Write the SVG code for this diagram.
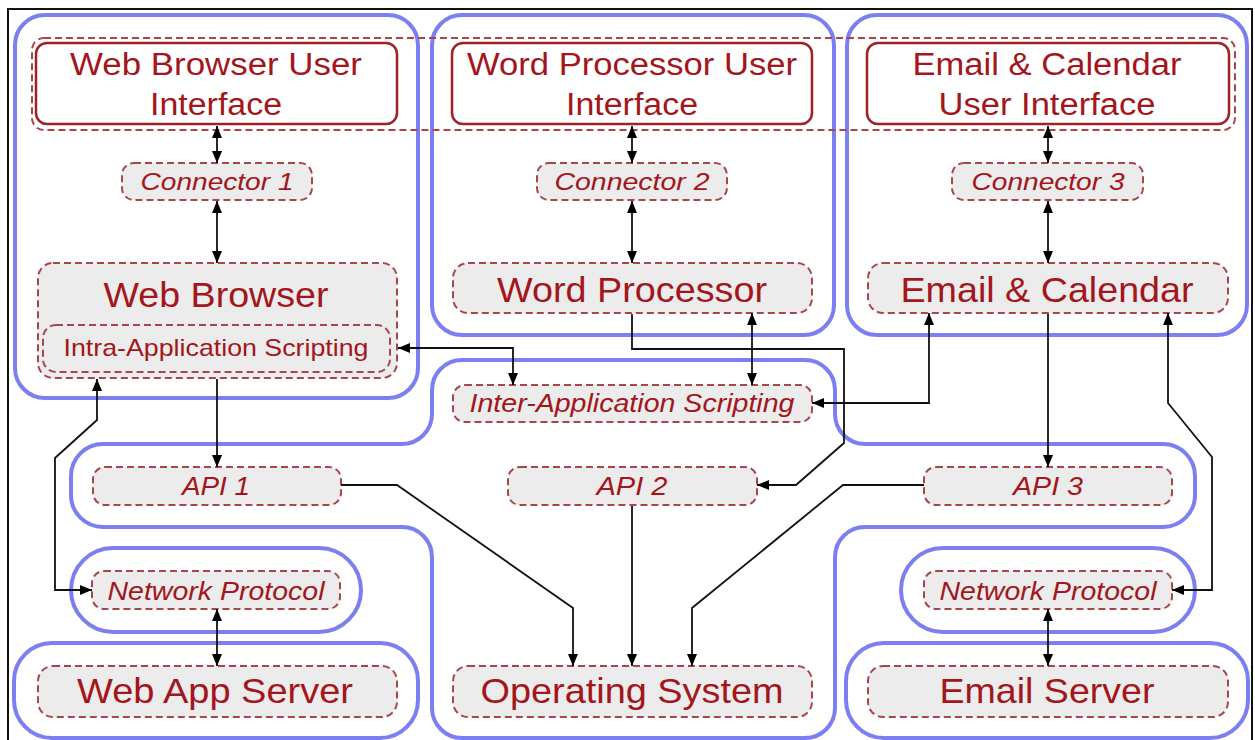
<svg xmlns="http://www.w3.org/2000/svg" width="1255" height="740" viewBox="0 0 1255 740">
<defs>
<style>
.blue{fill:none;stroke:#7c7ff2;stroke-width:4}
.dash{fill:#ececec;stroke:#a8474b;stroke-width:2;stroke-dasharray:7 4}
.dashnf{fill:none;stroke:#a8474b;stroke-width:2;stroke-dasharray:7 4}
.ui{fill:#fff;stroke:#a02226;stroke-width:2.5}
text{font-family:"Liberation Sans",Arial,Helvetica,sans-serif;fill:#a3161b;text-anchor:middle}
.it{font-style:italic}
.con{fill:none;stroke:#111;stroke-width:1.8}
</style>
<marker id="ah" viewBox="0 0 12 10" refX="12" refY="5" markerWidth="12" markerHeight="10" markerUnits="userSpaceOnUse" orient="auto-start-reverse">
<path d="M0,0 L12,5 L0,10 z" fill="#000"/>
</marker>
</defs>
<rect x="0" y="0" width="1255" height="740" fill="#fff"/>
<path d="M8 740 V9 H1252 V740" fill="none" stroke="#111" stroke-width="2"/>

<g id="containers">
<rect class="blue" x="15" y="15" width="403" height="383" rx="30"/>
<rect class="blue" x="432" y="15" width="402" height="320" rx="30"/>
<rect class="blue" x="847" y="15" width="400" height="320" rx="30"/>
<path class="blue" d="M462 360 H805 A30 30 0 0 1 835 390 V414 A30 30 0 0 0 865 444 H1163 A32 32 0 0 1 1195 476 V495 A32 32 0 0 1 1163 527 H865 A30 30 0 0 0 835 557 V708 A30 30 0 0 1 805 738 H462 A30 30 0 0 1 432 708 V557 A30 30 0 0 0 402 527 H103 A32 32 0 0 1 71 495 V476 A32 32 0 0 1 103 444 H402 A30 30 0 0 0 432 414 V390 A30 30 0 0 1 462 360 Z"/>
<rect class="blue" x="71" y="548" width="290" height="84" rx="42"/>
<rect class="blue" x="901" y="548" width="294" height="84" rx="42"/>
<rect class="blue" x="14" y="643" width="404" height="95" rx="38"/>
<rect class="blue" x="846" y="643" width="402" height="95" rx="38"/>
</g>

<g id="ui-layer">
<rect class="dashnf" x="32" y="38" width="1203" height="92" rx="12"/>
</g>

<g id="wb-ui">
<rect class="ui" x="36" y="43" width="361" height="81" rx="11"/>
<text x="216" y="75" font-size="31" textLength="292" lengthAdjust="spacingAndGlyphs">Web Browser User</text>
<text x="216" y="115" font-size="31" textLength="132" lengthAdjust="spacingAndGlyphs">Interface</text>
</g>
<g id="wp-ui">
<rect class="ui" x="452" y="43" width="360" height="81" rx="11"/>
<text x="632" y="75" font-size="31" textLength="330" lengthAdjust="spacingAndGlyphs">Word Processor User</text>
<text x="632" y="115" font-size="31" textLength="132" lengthAdjust="spacingAndGlyphs">Interface</text>
</g>
<g id="ec-ui">
<rect class="ui" x="867" y="43" width="362" height="81" rx="11"/>
<text x="1047" y="75" font-size="31" textLength="269" lengthAdjust="spacingAndGlyphs">Email &amp; Calendar</text>
<text x="1047" y="115" font-size="31" textLength="217" lengthAdjust="spacingAndGlyphs">User Interface</text>
</g>

<g id="connector1">
<rect class="dash" x="122" y="163" width="190" height="37" rx="12"/>
<text class="it" x="217" y="190" font-size="24" textLength="153" lengthAdjust="spacingAndGlyphs">Connector 1</text>
</g>
<g id="connector2">
<rect class="dash" x="537" y="163" width="190" height="37" rx="12"/>
<text class="it" x="632" y="190" font-size="24" textLength="155" lengthAdjust="spacingAndGlyphs">Connector 2</text>
</g>
<g id="connector3">
<rect class="dash" x="952" y="163" width="191" height="37" rx="12"/>
<text class="it" x="1048" y="190" font-size="24" textLength="153" lengthAdjust="spacingAndGlyphs">Connector 3</text>
</g>

<g id="web-browser">
<rect class="dash" x="38" y="263" width="359" height="115" rx="15"/>
<text x="216" y="307" font-size="35" textLength="225" lengthAdjust="spacingAndGlyphs">Web Browser</text>
</g>
<g id="intra-scripting">
<rect class="dash" x="43" y="325" width="347" height="47" rx="13"/>
<text x="216" y="356" font-size="24" textLength="305" lengthAdjust="spacingAndGlyphs">Intra-Application Scripting</text>
</g>
<g id="word-processor">
<rect class="dash" x="453" y="263" width="359" height="50" rx="15"/>
<text x="632" y="302" font-size="35" textLength="270" lengthAdjust="spacingAndGlyphs">Word Processor</text>
</g>
<g id="email-calendar">
<rect class="dash" x="868" y="263" width="360" height="50" rx="15"/>
<text x="1047" y="302" font-size="35" textLength="293" lengthAdjust="spacingAndGlyphs">Email &amp; Calendar</text>
</g>
<g id="inter-scripting">
<rect class="dash" x="453" y="385" width="359" height="37" rx="12"/>
<text class="it" x="632" y="412" font-size="26" textLength="325" lengthAdjust="spacingAndGlyphs">Inter-Application Scripting</text>
</g>

<g id="api1">
<rect class="dash" x="93" y="467" width="248" height="38" rx="12"/>
<text class="it" x="216" y="495" font-size="25" textLength="68" lengthAdjust="spacingAndGlyphs">API 1</text>
</g>
<g id="api2">
<rect class="dash" x="508" y="467" width="249" height="38" rx="12"/>
<text class="it" x="632" y="495" font-size="25" textLength="71" lengthAdjust="spacingAndGlyphs">API 2</text>
</g>
<g id="api3">
<rect class="dash" x="924" y="467" width="248" height="38" rx="12"/>
<text class="it" x="1048" y="495" font-size="25" textLength="70" lengthAdjust="spacingAndGlyphs">API 3</text>
</g>

<g id="netproto-left">
<rect class="dash" x="92" y="571" width="248" height="38" rx="12"/>
<text class="it" x="216" y="600" font-size="25" textLength="217" lengthAdjust="spacingAndGlyphs">Network Protocol</text>
</g>
<g id="netproto-right">
<rect class="dash" x="924" y="571" width="248" height="38" rx="12"/>
<text class="it" x="1048" y="600" font-size="25" textLength="217" lengthAdjust="spacingAndGlyphs">Network Protocol</text>
</g>

<g id="web-app-server">
<rect class="dash" x="38" y="666" width="359" height="51" rx="15"/>
<text x="215" y="703" font-size="35" textLength="276" lengthAdjust="spacingAndGlyphs">Web App Server</text>
</g>
<g id="operating-system">
<rect class="dash" x="453" y="666" width="359" height="51" rx="15"/>
<text x="632" y="703" font-size="35" textLength="303" lengthAdjust="spacingAndGlyphs">Operating System</text>
</g>
<g id="email-server">
<rect class="dash" x="868" y="666" width="360" height="51" rx="15"/>
<text x="1047" y="703" font-size="35" textLength="215" lengthAdjust="spacingAndGlyphs">Email Server</text>
</g>

<g id="connectors">
<path class="con" d="M217 126 V163" marker-start="url(#ah)" marker-end="url(#ah)"/>
<path class="con" d="M632 126 V163" marker-start="url(#ah)" marker-end="url(#ah)"/>
<path class="con" d="M1048 126 V163" marker-start="url(#ah)" marker-end="url(#ah)"/>
<path class="con" d="M217 201 V263" marker-start="url(#ah)" marker-end="url(#ah)"/>
<path class="con" d="M632 201 V263" marker-start="url(#ah)" marker-end="url(#ah)"/>
<path class="con" d="M1048 201 V263" marker-start="url(#ah)" marker-end="url(#ah)"/>
<path class="con" d="M217 379 V467" marker-end="url(#ah)"/>
<path class="con" d="M398 348 H513 V385" marker-start="url(#ah)" marker-end="url(#ah)"/>
<path class="con" d="M752 313 V385" marker-start="url(#ah)" marker-end="url(#ah)"/>
<path class="con" d="M632 314 V349 H844 V443 L796 485 H757" marker-end="url(#ah)"/>
<path class="con" d="M812 403 H929 V313" marker-start="url(#ah)" marker-end="url(#ah)"/>
<path class="con" d="M1048 314 V467" marker-end="url(#ah)"/>
<path class="con" d="M924 485 H843 L692 608 V666" marker-end="url(#ah)"/>
<path class="con" d="M632 506 V666" marker-end="url(#ah)"/>
<path class="con" d="M341 485 H397 L573 608 V666" marker-end="url(#ah)"/>
<path class="con" d="M92 590 H55 V458 L97 420 V379" marker-start="url(#ah)" marker-end="url(#ah)"/>
<path class="con" d="M1168 313 V403 L1212 457 V590 H1172" marker-start="url(#ah)" marker-end="url(#ah)"/>
<path class="con" d="M217 609 V666" marker-start="url(#ah)" marker-end="url(#ah)"/>
<path class="con" d="M1048 609 V666" marker-start="url(#ah)" marker-end="url(#ah)"/>
</g>
</svg>
